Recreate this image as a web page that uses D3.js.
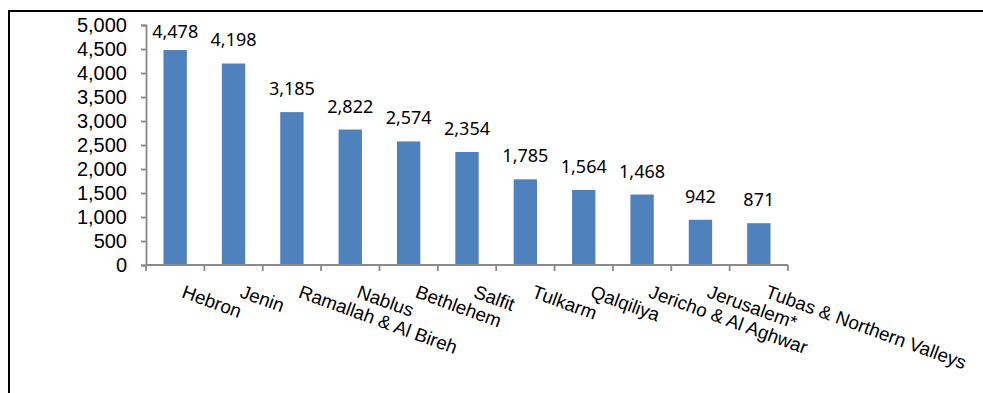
<!DOCTYPE html>
<html>
<head>
<meta charset="utf-8">
<script src="https://cdn.jsdelivr.net/npm/d3@7"></script>
<style>
  html, body { margin: 0; padding: 0; background: #fff; }
  svg { display: block; }
</style>
</head>
<body>
<svg id="chart" width="983" height="393"></svg>
<script>
// Governorates and their counts
const categories = ["Hebron", "Jenin", "Ramallah & Al Bireh", "Nablus", "Bethlehem", "Salfit",
  "Tulkarm", "Qalqiliya", "Jericho & Al Aghwar", "Jerusalem*", "Tubas & Northern Valleys"];
const values = [4478, 4198, 3185, 2822, 2574, 2354, 1785, 1564, 1468, 942, 871];
const yTicks = [0, 500, 1000, 1500, 2000, 2500, 3000, 3500, 4000, 4500, 5000];

const svg = d3.select("#chart");
const W = 983, H = 393;
const plot = { left: 146, right: 788, top: 25, bottom: 265 };
const axisColor = "#898989";
const barColor = "#4F81BD";
const fmt = d3.format(",");

// outer frame
svg.append("rect")
  .attr("x", 9).attr("y", 11)
  .attr("width", W + 20).attr("height", H + 20)
  .attr("fill", "none").attr("stroke", "#000").attr("stroke-width", 2);

const x = d3.scaleBand().domain(categories).range([plot.left, plot.right])
  .paddingInner(0.6).paddingOuter(0.3);
const xEdge = d3.scaleLinear().domain([0, categories.length]).range([plot.left, plot.right]);
const y = d3.scaleLinear().domain([0, 5000]).range([plot.bottom, plot.top]);

// bars
svg.append("g").selectAll("rect").data(values).join("rect")
  .attr("x", (d, i) => x(categories[i]))
  .attr("y", d => y(d))
  .attr("width", x.bandwidth())
  .attr("height", d => y(0) - y(d))
  .attr("fill", barColor);

// y axis
const yAxis = svg.append("g")
  .attr("transform", `translate(${plot.left},0)`)
  .call(d3.axisLeft(y).tickValues(yTicks).tickFormat(fmt).tickSizeOuter(0).tickSize(5).tickPadding(14));
yAxis.select(".domain").attr("stroke", axisColor).attr("stroke-width", 1.8);
yAxis.selectAll(".tick line").attr("stroke", axisColor).attr("stroke-width", 1.8);
yAxis.selectAll(".tick text")
  .attr("fill", "#000")
  .style("font-family", "'Liberation Sans', Arial, sans-serif")
  .style("font-size", "20px");

// x axis line and ticks at band boundaries
const xg = svg.append("g");
xg.append("line")
  .attr("x1", plot.left).attr("x2", plot.right)
  .attr("y1", y(0)).attr("y2", y(0))
  .attr("stroke", axisColor).attr("stroke-width", 1.8);
xg.selectAll("line.tk").data(d3.range(categories.length + 1)).join("line")
  .attr("class", "tk")
  .attr("x1", i => xEdge(i)).attr("x2", i => xEdge(i))
  .attr("y1", y(0)).attr("y2", y(0) + 6)
  .attr("stroke", axisColor).attr("stroke-width", 1.8);

// rotated category labels
xg.selectAll("text").data(categories).join("text")
  .attr("transform", d => `translate(${x(d) + x.bandwidth() / 2 + 5.5},297) rotate(20)`)
  .attr("text-anchor", "start")
  .style("font-family", "'Liberation Sans', Arial, sans-serif")
  .style("font-size", "18.8px")
  .attr("fill", "#000")
  .text(d => d);

// value labels above bars
svg.append("g").selectAll("text").data(values).join("text")
  .attr("x", (d, i) => x(categories[i]) + x.bandwidth() / 2)
  .attr("y", d => Math.max(y(d) - 17, 38))
  .attr("text-anchor", "middle")
  .style("font-family", "'Noto Sans', 'Open Sans', sans-serif")
  .style("font-size", "18px")
  .attr("fill", "#000")
  .text(d => fmt(d));
</script>
</body>
</html>
